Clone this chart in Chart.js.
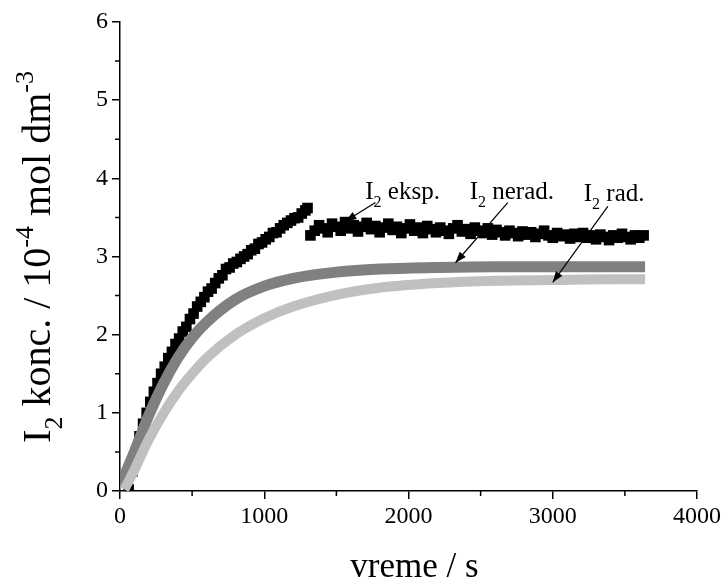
<!DOCTYPE html>
<html>
<head>
<meta charset="utf-8">
<script src="https://cdn.jsdelivr.net/npm/chart.js@4/dist/chart.umd.min.js"></script>
<style>
  html, body { margin: 0; padding: 0; background: #fff; }
  #wrap { width: 728px; height: 582px; }
</style>
</head>
<body>
<div id="wrap"><canvas id="kinChart" width="728" height="582"></canvas></div>
<script>
// experimental I2 (black squares), two segments
const expTime = [60, 85, 110, 135, 160, 185, 210, 235, 260, 285, 310, 335, 360, 385, 410, 435, 460, 485,
  510, 535, 560, 585, 610, 635, 660, 685, 710, 735, 760, 785, 810, 835, 860, 885, 910, 935, 960, 985,
  1010, 1035, 1060, 1085, 1110, 1135, 1160, 1185, 1210, 1235, 1260, 1285, 1300,
  1320, 1350, 1380, 1410, 1440, 1470, 1500, 1530, 1560, 1590, 1620, 1650, 1680, 1710, 1740, 1770, 1800,
  1830, 1860, 1890, 1920, 1950, 1980, 2010, 2040, 2070, 2100, 2130, 2160, 2190, 2220, 2250, 2280, 2310,
  2340, 2370, 2400, 2430, 2460, 2490, 2520, 2550, 2580, 2610, 2640, 2670, 2700, 2730, 2760, 2790, 2820,
  2850, 2880, 2910, 2940, 2970, 3000, 3030, 3060, 3090, 3120, 3150, 3180, 3210, 3240, 3270, 3300, 3330,
  3360, 3390, 3420, 3450, 3480, 3510, 3540, 3570, 3600, 3630];
const expConc = [0.02, 0.25, 0.50, 0.70, 0.86, 1.00, 1.14, 1.27, 1.38, 1.50, 1.59, 1.70, 1.78, 1.88, 1.95, 2.04, 2.10, 2.20,
  2.27, 2.36, 2.42, 2.48, 2.55, 2.59, 2.66, 2.72, 2.76, 2.84, 2.86, 2.91, 2.93, 2.97, 3.00, 3.03, 3.08, 3.10, 3.16, 3.18,
  3.22, 3.25, 3.30, 3.31, 3.36, 3.40, 3.43, 3.46, 3.49, 3.50, 3.55, 3.59, 3.62,
  3.27, 3.33, 3.40, 3.36, 3.31, 3.42, 3.38, 3.33, 3.44, 3.36, 3.40, 3.32, 3.38, 3.43, 3.35, 3.39, 3.31,
  3.37, 3.42, 3.34, 3.38, 3.30, 3.36, 3.41, 3.33, 3.37, 3.30, 3.39, 3.35, 3.31, 3.37, 3.33, 3.29, 3.36,
  3.40, 3.32, 3.35, 3.29, 3.37, 3.33, 3.30, 3.36, 3.28, 3.34, 3.31, 3.27, 3.33, 3.30, 3.26, 3.32, 3.28,
  3.31, 3.25, 3.29, 3.33, 3.27, 3.24, 3.30, 3.26, 3.28, 3.23, 3.29, 3.25, 3.30, 3.24, 3.27, 3.22, 3.28,
  3.25, 3.21, 3.27, 3.24, 3.29, 3.25, 3.22, 3.27, 3.24, 3.27];

// model curves
const neradTime = [0, 50, 100, 150, 200, 300, 400, 500, 600, 800, 1000, 1200, 1500, 1800, 2200, 2600, 3000, 3400, 3640];
const neradConc = [0.05, 0.28, 0.50, 0.74, 0.97, 1.37, 1.70, 1.96, 2.16, 2.45, 2.62, 2.72, 2.80, 2.84, 2.86, 2.87, 2.87, 2.87, 2.87];
const radTime = [30, 100, 150, 200, 300, 400, 500, 600, 800, 1000, 1200, 1500, 1800, 2200, 2600, 3000, 3400, 3640];
const radConc = [0.02, 0.27, 0.47, 0.66, 0.99, 1.27, 1.50, 1.70, 2.00, 2.21, 2.36, 2.51, 2.60, 2.66, 2.69, 2.70, 2.71, 2.71];

const xTicks = [0, 1000, 2000, 3000, 4000];
const yTicks = [0, 1, 2, 3, 4, 5, 6];

// labels with arrows: text start, arrow tail, arrow head (data units)
const notes = [
  { sub: ' eksp.', tx: 1700, ty: 3.73, ax: 1771, ay: 3.69, bx: 1563, by: 3.45 },
  { sub: ' nerad.', tx: 2424, ty: 3.73, ax: 2688, ay: 3.69, bx: 2326, by: 2.92 },
  { sub: ' rad.', tx: 3215, ty: 3.71, ax: 3382, ay: 3.64, bx: 3000, by: 2.67 }
];

const SERIF = '"Liberation Serif", "Times New Roman", serif';

function pts(xs, ys) {
  return xs.map((x, i) => ({ x: x, y: ys[i] }));
}

// draws a run of text pieces, each {t, size, dy}
function richText(ctx, parts, x, y) {
  let cx = x;
  parts.forEach(p => {
    ctx.font = p.size + 'px ' + SERIF;
    ctx.fillText(p.t, cx, y + (p.dy || 0));
    cx += ctx.measureText(p.t).width;
  });
  return cx - x;
}

function richWidth(ctx, parts) {
  let w = 0;
  parts.forEach(p => {
    ctx.font = p.size + 'px ' + SERIF;
    w += ctx.measureText(p.t).width;
  });
  return w;
}

const decorPlugin = {
  id: 'decor',
  afterDraw(chart) {
    const ctx = chart.ctx;
    const xs = chart.scales.x, ys = chart.scales.y;
    const area = chart.chartArea;
    ctx.save();
    ctx.strokeStyle = '#000';
    ctx.fillStyle = '#000';
    ctx.lineWidth = 1.5;

    // minor ticks
    ctx.beginPath();
    for (let v = 500; v < 4000; v += 1000) {
      const px = xs.getPixelForValue(v);
      ctx.moveTo(px, area.bottom);
      ctx.lineTo(px, area.bottom + 5);
    }
    for (let v = 0.5; v < 6; v += 1) {
      const py = ys.getPixelForValue(v);
      ctx.moveTo(area.left, py);
      ctx.lineTo(area.left - 5, py);
    }
    ctx.stroke();

    // annotations
    ctx.textBaseline = 'alphabetic';
    ctx.textAlign = 'left';
    notes.forEach(n => {
      richText(ctx, [{ t: 'I', size: 25 }, { t: '2', size: 16, dy: 8 }, { t: n.sub, size: 25 }],
        xs.getPixelForValue(n.tx), ys.getPixelForValue(n.ty));
      const x1 = xs.getPixelForValue(n.ax), y1 = ys.getPixelForValue(n.ay);
      const x2 = xs.getPixelForValue(n.bx), y2 = ys.getPixelForValue(n.by);
      ctx.lineWidth = 1.2;
      ctx.beginPath();
      ctx.moveTo(x1, y1);
      ctx.lineTo(x2, y2);
      ctx.stroke();
      const ang = Math.atan2(y2 - y1, x2 - x1);
      ctx.beginPath();
      ctx.moveTo(x2, y2);
      ctx.lineTo(x2 - 11 * Math.cos(ang) + 4 * Math.sin(ang), y2 - 11 * Math.sin(ang) - 4 * Math.cos(ang));
      ctx.lineTo(x2 - 11 * Math.cos(ang) - 4 * Math.sin(ang), y2 - 11 * Math.sin(ang) + 4 * Math.cos(ang));
      ctx.closePath();
      ctx.fill();
    });

    // x title
    const xParts = [{ t: 'vreme / s', size: 35 }];
    const xw = richWidth(ctx, xParts);
    richText(ctx, xParts, (area.left + area.right) / 2 - xw / 2 + 6, 577);

    // y title, rotated
    const yParts = [
      { t: 'I', size: 40 }, { t: '2', size: 26, dy: 12 },
      { t: ' konc. / 10', size: 40 }, { t: '-4', size: 26, dy: -17 },
      { t: ' mol dm', size: 40 }, { t: '-3', size: 26, dy: -17 }
    ];
    const yw = richWidth(ctx, yParts);
    ctx.translate(50, 257);
    ctx.rotate(-Math.PI / 2);
    richText(ctx, yParts, -yw / 2, 0);
    ctx.restore();
  }
};

const tickFont = { family: SERIF, size: 24 };

new Chart(document.getElementById('kinChart'), {
  type: 'scatter',
  data: {
    datasets: [
      {
        label: 'I2 rad.',
        data: pts(radTime, radConc),
        showLine: true,
        borderColor: '#c0c0c0',
        borderWidth: 10,
        pointRadius: 0,
        cubicInterpolationMode: 'monotone',
        order: 0
      },
      {
        label: 'I2 nerad.',
        data: pts(neradTime, neradConc),
        showLine: true,
        borderColor: '#808080',
        borderWidth: 11,
        pointRadius: 0,
        cubicInterpolationMode: 'monotone',
        order: 1
      },
      {
        label: 'I2 eksp.',
        data: pts(expTime, expConc),
        showLine: false,
        pointStyle: 'rect',
        pointRadius: 7.5,
        backgroundColor: '#000',
        borderColor: '#000',
        borderWidth: 0,
        order: 2
      }
    ]
  },
  options: {
    responsive: false,
    animation: false,
    devicePixelRatio: 1,
    layout: { padding: { left: 0, top: 22, right: 31, bottom: 0 } },
    plugins: {
      legend: { display: false },
      tooltip: { enabled: false }
    },
    scales: {
      x: {
        type: 'linear',
        min: 0,
        max: 4000,
        afterBuildTicks: function(scale) {
          scale.ticks = xTicks.map(v => ({ value: v }));
        },
        afterFit: function(scale) { scale.height = 91; },
        ticks: {
          font: tickFont, color: '#000', padding: 3, maxRotation: 0,
          callback: function(value) { return String(value); }
        },
        grid: { drawOnChartArea: false, drawTicks: true, tickLength: 8, color: '#000', lineWidth: 1.5 },
        border: { display: true, color: '#000', width: 1.5 }
      },
      y: {
        type: 'linear',
        min: 0,
        max: 6,
        afterBuildTicks: function(scale) {
          scale.ticks = yTicks.map(v => ({ value: v }));
        },
        afterFit: function(scale) { scale.width = 120; },
        ticks: {
          font: tickFont, color: '#000', padding: 4,
          callback: function(value) { return String(value); }
        },
        grid: { drawOnChartArea: false, drawTicks: true, tickLength: 8, color: '#000', lineWidth: 1.5 },
        border: { display: true, color: '#000', width: 1.5 }
      }
    }
  },
  plugins: [decorPlugin]
});
</script>
</body>
</html>
